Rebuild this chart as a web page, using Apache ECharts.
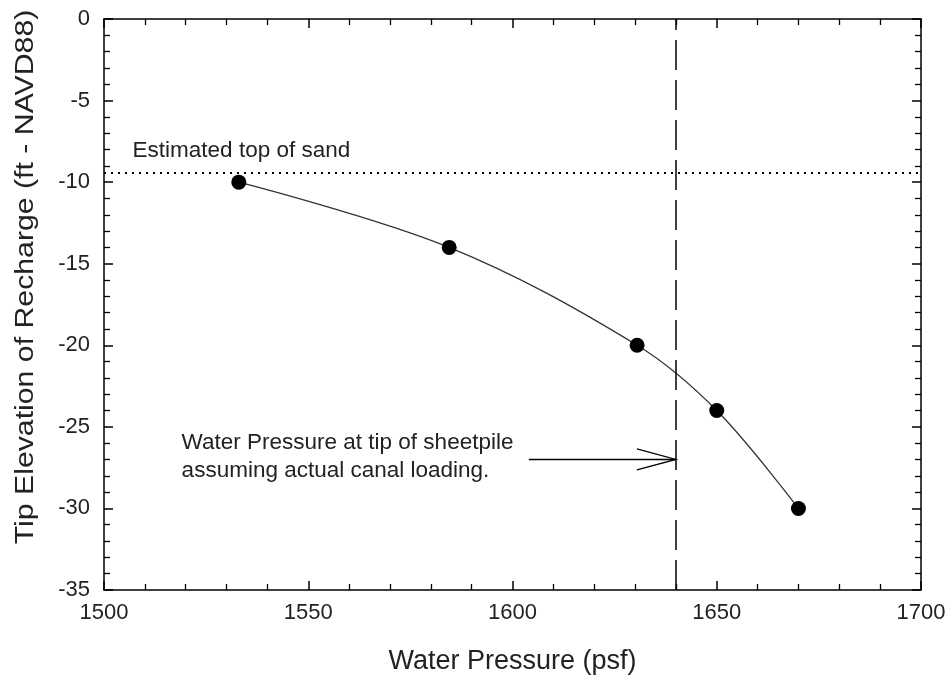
<!DOCTYPE html>
<html>
<head>
<meta charset="utf-8">
<script src="https://cdn.jsdelivr.net/npm/echarts@6/dist/echarts.min.js"></script>
<style>
html,body{margin:0;padding:0;background:#fff;}
#chart{width:952px;height:681px;}
</style>
</head>
<body>
<div id="chart"></div>
<script>
// ---- data ----
const pressure = [1533, 1584.5, 1630.5, 1650, 1670];
const elevation = [-10, -14, -20, -24, -30];
const xRange = [1500, 1700];
const xStep = 50;
const yRange = [-35, 0];
const yStep = 5;
const sandTop = -9.4;
const sheetpilePressure = 1640;
const arrowFrom = 1604;
const arrowElevation = -27;
const sandLabel = 'Estimated top of sand';
const sandLabelX = 1507;
const noteLines = ['Water Pressure at tip of sheetpile', 'assuming actual canal loading.'];
const noteX = 1519;
const xTitle = 'Water Pressure (psf)';
const yTitle = 'Tip Elevation of Recharge (ft - NAVD88)';

const FONT = 'Liberation Sans, Arial, sans-serif';
const TXT = '#222';

const chart = echarts.init(document.getElementById('chart'), null, {renderer: 'canvas'});

function axisBase(extra) {
  return Object.assign({
    type: 'value',
    axisLine: {show: true, onZero: false, lineStyle: {color: '#000', width: 1.5}},
    axisTick: {show: true, inside: true, length: 9, lineStyle: {color: '#000', width: 1.5}},
    minorTick: {show: true, splitNumber: 5, length: 6, lineStyle: {color: '#000', width: 1.3}},
    splitLine: {show: false},
    minorSplitLine: {show: false}
  }, extra);
}

const points = pressure.map((p, i) => [p, elevation[i]]);

chart.setOption({
  animation: false,
  backgroundColor: '#fff',
  grid: {left: 104, right: 31, top: 19, bottom: 91, containLabel: false},
  xAxis: [
    axisBase({
      min: xRange[0], max: xRange[1], interval: xStep, position: 'bottom',
      name: xTitle, nameLocation: 'middle', nameGap: 58,
      nameTextStyle: {fontFamily: FONT, fontSize: 27, color: TXT},
      axisLabel: {fontFamily: FONT, fontSize: 22, color: TXT, margin: 12, formatter: v => String(v)}
    }),
    axisBase({
      min: xRange[0], max: xRange[1], interval: xStep, position: 'top',
      axisLabel: {show: false}
    })
  ],
  yAxis: [
    axisBase({
      min: yRange[0], max: yRange[1], interval: yStep, position: 'left',
      axisLabel: {fontFamily: FONT, fontSize: 22, color: TXT, margin: 14, formatter: v => String(v)}
    }),
    axisBase({
      min: yRange[0], max: yRange[1], interval: yStep, position: 'right',
      axisLabel: {show: false}
    })
  ],
  series: [{
    type: 'line',
    data: points,
    smooth: 0.35,
    symbol: 'circle',
    symbolSize: 15,
    itemStyle: {color: '#000'},
    lineStyle: {color: '#333', width: 1.3},
    markLine: {
      silent: true,
      symbol: 'none',
      label: {show: false},
      data: [
        {yAxis: sandTop, lineStyle: {type: [2, 5], color: '#000', width: 2}},
        {xAxis: sheetpilePressure, lineStyle: {type: [30, 10], color: '#000', width: 1.5}}
      ]
    }
  }]
});

function px(x, y) { return chart.convertToPixel({xAxisIndex: 0, yAxisIndex: 0}, [x, y]); }

const sandPos = px(sandLabelX, sandTop);
const tip = px(sheetpilePressure, arrowElevation);
const tail = px(arrowFrom, arrowElevation);
const noteLeft = px(noteX, arrowElevation);

chart.setOption({
  graphic: [
    {type: 'text', x: 26, y: 277, rotation: Math.PI / 2, scaleX: 1.21,
     style: {text: yTitle, font: '25px ' + FONT, fill: TXT, align: 'center', verticalAlign: 'middle'}},
    {type: 'text', x: sandPos[0], y: sandPos[1] - 10,
     style: {text: sandLabel, font: '22.5px ' + FONT, fill: TXT, verticalAlign: 'bottom'}},
    {type: 'text', x: noteLeft[0], y: tip[1] - 3,
     style: {text: noteLines.join('\n'), font: '22.5px ' + FONT, fill: TXT, lineHeight: 28, verticalAlign: 'middle', align: 'left'}},
    {type: 'line', shape: {x1: tail[0], y1: tail[1], x2: tip[0], y2: tip[1]},
     style: {stroke: '#000', lineWidth: 1.3}},
    {type: 'polyline', shape: {points: [[tip[0] - 39, tip[1] - 10.5], [tip[0], tip[1]], [tip[0] - 39, tip[1] + 10.5]]},
     style: {stroke: '#000', lineWidth: 1.3, fill: null}}
  ]
});
</script>
</body>
</html>
